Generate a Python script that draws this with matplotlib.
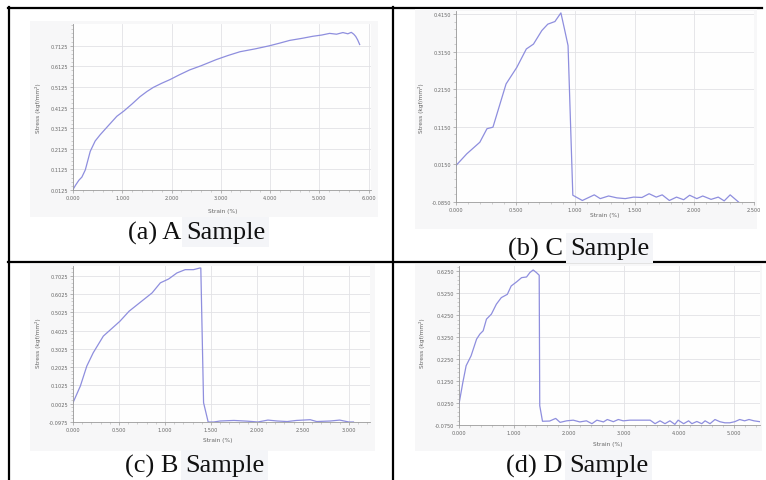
import numpy as np
import matplotlib
matplotlib.use("Agg")
from matplotlib import pyplot as plt
from matplotlib.ticker import AutoMinorLocator, FixedLocator, FormatStrFormatter
from matplotlib.patches import Rectangle
from matplotlib.lines import Line2D

# (a) A sample
a_strain = [0.0, 0.05, 0.12, 0.18, 0.25, 0.35, 0.45, 0.55, 0.70, 0.89, 1.03, 1.20, 1.36,
            1.50, 1.63, 1.80, 1.97, 2.15, 2.37, 2.60, 2.91, 3.15, 3.39, 3.70, 3.99,
            4.20, 4.40, 4.65, 4.87, 5.05, 5.21, 5.35, 5.48, 5.58, 5.65, 5.70, 5.74, 5.78, 5.82]
a_stress = [0.015, 0.035, 0.060, 0.075, 0.11, 0.20, 0.25, 0.28, 0.32, 0.37, 0.395, 0.43, 0.465,
            0.49, 0.51, 0.53, 0.548, 0.57, 0.595, 0.615, 0.645, 0.665, 0.683, 0.697, 0.712,
            0.725, 0.738, 0.748, 0.758, 0.764, 0.772, 0.768, 0.776, 0.770, 0.777, 0.768, 0.757, 0.740, 0.718]
a_yticks = [0.0125, 0.1125, 0.2125, 0.3125, 0.4125, 0.5125, 0.6125, 0.7125]
a_xticks = [0, 1, 2, 3, 4, 5, 6]

# (b) C sample
b_strain = [0.0, 0.09, 0.20, 0.26, 0.31, 0.42, 0.51, 0.59, 0.65, 0.72, 0.77, 0.83, 0.88, 0.91,
            0.94, 0.98, 1.06, 1.16, 1.21, 1.28, 1.35, 1.42, 1.49, 1.56, 1.62, 1.68, 1.73, 1.79,
            1.85, 1.91, 1.96, 2.02, 2.07, 2.14, 2.20, 2.25, 2.30, 2.37]
b_stress = [0.012, 0.043, 0.074, 0.110, 0.114, 0.229, 0.273, 0.322, 0.335, 0.371, 0.388, 0.395,
            0.418, 0.375, 0.331, -0.067, -0.081, -0.066, -0.076, -0.069, -0.074, -0.076, -0.072,
            -0.073, -0.063, -0.072, -0.066, -0.081, -0.072, -0.079, -0.067, -0.076, -0.069,
            -0.078, -0.072, -0.082, -0.066, -0.085]
b_yticks = [-0.085, 0.015, 0.115, 0.215, 0.315, 0.415]
b_xticks = [0.0, 0.5, 1.0, 1.5, 2.0, 2.5]

# (c) B sample
c_strain = [0.0, 0.08, 0.15, 0.22, 0.33, 0.41, 0.51, 0.61, 0.70, 0.77, 0.86, 0.95, 1.04, 1.13,
            1.22, 1.31, 1.38, 1.39, 1.42, 1.47, 1.53, 1.60, 1.75, 1.90, 2.01, 2.12, 2.22, 2.33,
            2.43, 2.58, 2.65, 2.80, 2.90, 3.00, 3.05]
c_stress = [0.008, 0.099, 0.208, 0.281, 0.372, 0.408, 0.453, 0.508, 0.544, 0.572, 0.608, 0.663,
            0.684, 0.717, 0.735, 0.735, 0.744, 0.744, 0.008, -0.0975, -0.0975, -0.092, -0.089,
            -0.093, -0.0975, -0.087, -0.092, -0.095, -0.089, -0.085, -0.095, -0.092, -0.087,
            -0.0975, -0.0975]
c_yticks = [-0.0975, 0.0025, 0.1025, 0.2025, 0.3025, 0.4025, 0.5025, 0.6025, 0.7025]
c_xticks = [0.0, 0.5, 1.0, 1.5, 2.0, 2.5, 3.0]

# (d) D sample
d_strain = [0.0, 0.07, 0.13, 0.22, 0.32, 0.38, 0.44, 0.50, 0.59, 0.68, 0.77, 0.88, 0.95, 1.05,
            1.14, 1.23, 1.29, 1.35, 1.41, 1.46, 1.47, 1.52, 1.65, 1.76, 1.84, 1.96, 2.08, 2.20,
            2.32, 2.42, 2.51, 2.63, 2.70, 2.81, 2.90, 2.99, 3.11, 3.23, 3.36, 3.48, 3.57, 3.66,
            3.75, 3.84, 3.93, 3.99, 4.09, 4.18, 4.24, 4.33, 4.42, 4.48, 4.57, 4.66, 4.75, 4.84,
            4.93, 5.02, 5.11, 5.20, 5.28, 5.37, 5.48]
d_stress = [0.0205, 0.119, 0.195, 0.240, 0.316, 0.339, 0.354, 0.407, 0.430, 0.475, 0.505, 0.520,
            0.558, 0.577, 0.596, 0.599, 0.619, 0.631, 0.619, 0.607, 0.013, -0.058, -0.057, -0.045,
            -0.063, -0.056, -0.053, -0.061, -0.056, -0.069, -0.053, -0.061, -0.050, -0.060,
            -0.050, -0.056, -0.053, -0.053, -0.053, -0.053, -0.069, -0.056, -0.069, -0.056,
            -0.072, -0.053, -0.069, -0.056, -0.069, -0.059, -0.069, -0.056, -0.069, -0.050,
            -0.060, -0.065, -0.065, -0.060, -0.050, -0.056, -0.050, -0.056, -0.060]
d_yticks = [-0.075, 0.025, 0.125, 0.225, 0.325, 0.425, 0.525, 0.625]
d_xticks = [0, 1, 2, 3, 4, 5]

W, H = 766, 481
LINE = "#8e8ede"
GRAY = "#666666"


def fx(px):
    return px / W


def fy(py):
    return 1 - py / H


def panel(fig, box, img, strain, stress, xticks, yticks, xlim, ylim, xfmt, yfmt,
          ylab_xy, xlab_xy):
    # faint background of the pasted chart image
    x0, y0, x1, y1 = img
    fig.add_artist(Rectangle((fx(x0), fy(y1)), fx(x1 - x0), (y1 - y0) / H,
                             transform=fig.transFigure, facecolor="#f7f7f8",
                             edgecolor="none", zorder=-1))
    l, t, r, b = box
    ax = fig.add_axes([fx(l), fy(b), fx(r - l), (b - t) / H])
    ax.set_facecolor("#fefefe")
    ax.plot(strain, stress, color=LINE, lw=0.9)
    ax.set_xlim(*xlim)
    ax.set_ylim(*ylim)
    ax.xaxis.set_major_locator(FixedLocator(xticks))
    ax.yaxis.set_major_locator(FixedLocator(yticks))
    ax.xaxis.set_major_formatter(FormatStrFormatter(xfmt))
    ax.yaxis.set_major_formatter(FormatStrFormatter(yfmt))
    ax.xaxis.set_minor_locator(AutoMinorLocator(5))
    ax.yaxis.set_minor_locator(AutoMinorLocator(5))
    ax.grid(True, which="major", color="#e2e2e6", lw=0.6)
    ax.set_axisbelow(True)
    for s in ["top", "right"]:
        ax.spines[s].set_visible(False)
    for s in ["left", "bottom"]:
        ax.spines[s].set_color("#9a9a9a")
        ax.spines[s].set_linewidth(0.6)
    ax.tick_params(which="major", length=2, width=0.5, colors="#9a9a9a",
                   labelsize=3.6, labelcolor=GRAY, pad=1.5)
    ax.tick_params(which="minor", length=1.2, width=0.4, colors="#b0b0b0")
    fig.text(fx(ylab_xy[0]), fy(ylab_xy[1]), "Stress (kgf/mm²)", rotation=90,
             ha="center", va="center", fontsize=4.2, color=GRAY)
    fig.text(fx(xlab_xy[0]), fy(xlab_xy[1]), "Strain (%)", ha="center", va="center",
             fontsize=4.2, color=GRAY)
    return ax


def caption(fig, x, y, head):
    # "Sample" sits on a faint highlight, the head text does not
    fig.text(fx(x), fy(y), head + " ", ha="right", va="center", fontsize=19,
             family="Liberation Serif", color="#111111")
    fig.text(fx(x), fy(y), "Sample", ha="left", va="center", fontsize=19,
             family="Liberation Serif", color="#111111",
             bbox=dict(boxstyle="square,pad=0.15", facecolor="#f4f5f8", edgecolor="none"))


def main():
    fig = plt.figure(figsize=(W / 100, H / 100), dpi=100)
    fig.patch.set_facecolor("white")

    # table rules
    rules = [
        ((8, 762), (9, 9)),
        ((9, 9), (8, 481)),
        ((393, 393), (8, 481)),
        ((8, 766), (263, 263)),
    ]
    for xs, ys in rules:
        fig.add_artist(Line2D([fx(v) for v in xs], [fy(v) for v in ys],
                              transform=fig.transFigure, color="black", lw=1.6, zorder=-2))

    panel(fig, (73, 25, 371, 191), (30, 22, 378, 218), a_strain, a_stress, a_xticks,
          a_yticks, (0, 6.05), (0.0125, 0.8175), "%.3f", "%.4f", (38, 108), (223, 211))
    panel(fig, (456, 12, 754, 203), (415, 10, 757, 230), b_strain, b_stress, b_xticks,
          b_yticks, (0, 2.5), (-0.085, 0.423), "%.3f", "%.4f", (421, 108), (605, 216))
    panel(fig, (73, 267, 370, 423), (30, 265, 375, 452), c_strain, c_stress, c_xticks,
          c_yticks, (0, 3.23), (-0.0975, 0.755), "%.3f", "%.4f", (38, 343), (218, 441))
    panel(fig, (459, 267, 760, 426), (415, 265, 762, 452), d_strain, d_stress, d_xticks,
          d_yticks, (0, 5.48), (-0.075, 0.649), "%.3f", "%.4f", (422, 343), (608, 445))

    caption(fig, 186, 233, "(a) A")
    caption(fig, 570, 249, "(b) C")
    caption(fig, 185, 466, "(c) B")
    caption(fig, 569, 466, "(d) D")

    fig.savefig("out.png", dpi=100)


if __name__ == "__main__":
    main()
